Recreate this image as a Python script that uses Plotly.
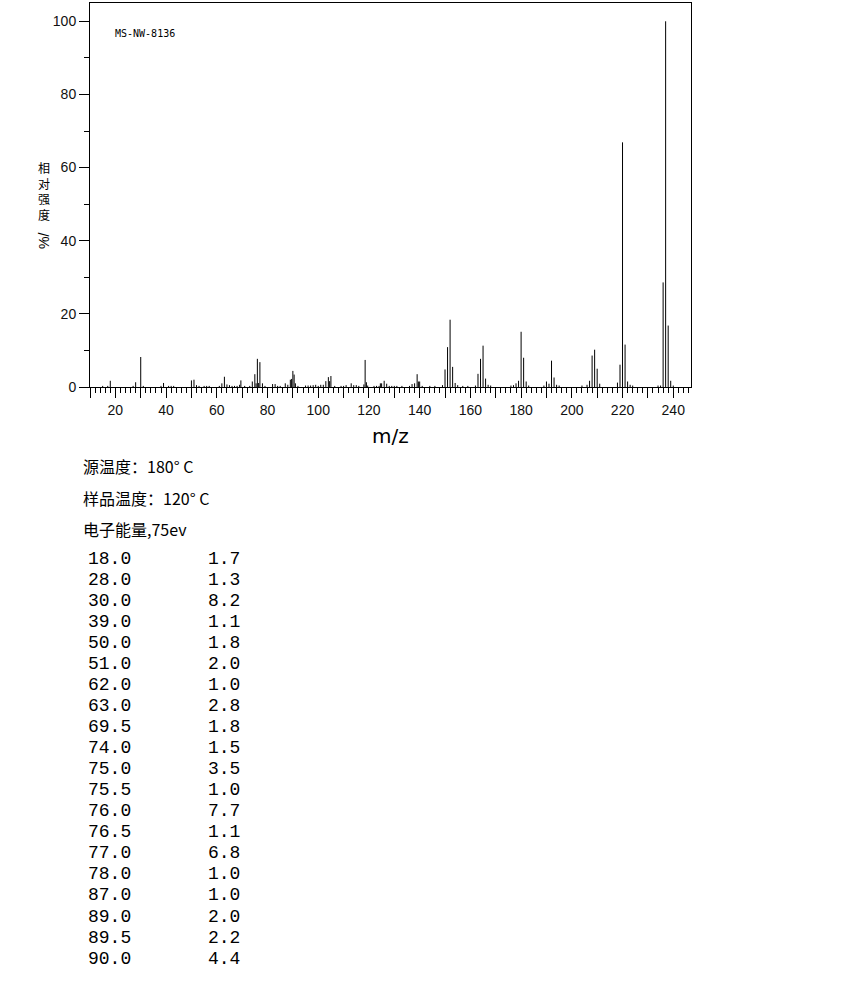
import plotly.graph_objects as go

# ---- spectrum data (m/z, relative intensity %) ----
mz = [15, 17, 18, 27, 28, 30, 31, 38, 39, 41, 42, 43, 50, 51, 52, 53, 55, 56, 57,
      61, 62, 63, 64, 65, 66, 67, 68, 69, 69.5, 71, 73, 74, 75, 75.5, 76, 76.5, 77, 78,
      79, 82, 83, 84, 85, 87, 88, 89, 89.5, 90, 90.5, 91, 92, 95, 96, 97, 98, 99, 100,
      101, 102, 103, 104, 104.5, 105, 106.5, 109, 110, 111, 113, 114, 115, 116,
      118, 118.5, 119, 119.5, 122, 123, 124, 124.5, 125, 126, 127, 128, 129, 130, 131,
      133, 136, 137, 138, 139, 139.5, 140, 141, 144, 146, 149, 150, 151, 152, 153,
      154, 155, 157, 159, 162, 163, 164, 165, 166, 167, 168, 176, 177, 178, 179, 180,
      181, 182, 183, 189, 190, 191, 192, 193, 194, 195, 204, 206, 207, 208, 209, 210,
      211, 218, 219, 220, 221, 222, 223, 224, 234, 235, 236, 237, 238, 239, 240]
intensity = [0.3, 0.3, 1.7, 0.3, 1.3, 8.2, 0.3, 0.3, 1.1, 0.3, 0.3, 0.3, 1.8, 2.0, 0.5, 0.3, 0.3, 0.3, 0.3,
             0.3, 1.0, 2.8, 0.7, 0.5, 0.3, 0.3, 0.3, 0.6, 1.8, 0.3, 0.3, 1.5, 3.5, 1.0, 7.7, 1.1, 6.8, 1.0,
             0.3, 0.8, 0.8, 0.3, 0.3, 1.0, 0.6, 2.0, 2.2, 4.4, 3.4, 1.0, 0.3, 0.4, 0.4, 0.4, 0.5, 0.6, 0.3,
             0.6, 0.6, 1.6, 2.7, 1.6, 3.0, 0.3, 0.3, 0.3, 0.5, 1.0, 0.5, 0.5, 0.3,
             0.7, 7.4, 1.3, 0.4, 0.3, 0.3, 0.3, 1.0, 1.0, 1.7, 0.9, 0.3, 0.3, 0.3, 0.3,
             0.3, 0.3, 0.8, 1.0, 3.5, 1.5, 1.5, 0.3, 0.3, 0.3, 0.5, 4.8, 10.9, 18.4, 5.5,
             1.1, 0.5, 0.3, 0.3, 0.4, 3.6, 7.7, 11.3, 2.3, 0.6, 0.4, 0.4, 0.5, 1.0, 1.7, 15.1,
             8.0, 1.5, 0.4, 0.4, 1.5, 0.9, 7.2, 2.6, 0.6, 0.4, 0.4, 0.6, 1.7, 8.6, 10.2, 5.0,
             0.9, 1.2, 6.1, 66.9, 11.6, 1.5, 0.6, 0.4, 0.4, 0.4, 28.6, 100.0, 16.8, 1.7, 0.4]

x_range = [10, 247]
y_range = [0, 105]
x_labels = [20, 40, 60, 80, 100, 120, 140, 160, 180, 200, 220, 240]

sample_id = "MS-NW-8136"
y_title_chars = ["相", "对", "强", "度"]
info_lines = ["源温度：180° C", "样品温度：120° C", "电子能量,75ev"]

table_mz = ["18.0", "28.0", "30.0", "39.0", "50.0", "51.0", "62.0", "63.0", "69.5", "74.0",
            "75.0", "75.5", "76.0", "76.5", "77.0", "78.0", "87.0", "89.0", "89.5", "90.0"]
table_int = ["1.7", "1.3", "8.2", "1.1", "1.8", "2.0", "1.0", "2.8", "1.8", "1.5",
             "3.5", "1.0", "7.7", "1.1", "6.8", "1.0", "1.0", "2.0", "2.2", "4.4"]

# ---- layout geometry (pixels) ----
W, H = 850, 992
L, R, T, B = 90, 159, 3, 605
PW = W - L - R
PH = H - T - B


def px(xp):
    return (xp - L) / PW


def py(yp):
    return (H - B - yp) / PH


# build stick lines
xs, ys = [], []
for m, v in zip(mz, intensity):
    xs += [m, m, None]
    ys += [0, v, None]

fig = go.Figure()
fig.add_trace(go.Scatter(x=xs, y=ys, mode="lines",
                         line=dict(color="black", width=1),
                         hoverinfo="skip", showlegend=False))

alias = {str(v): " " for v in range(10, 250, 10) if v not in x_labels}

tickfont = dict(family="Liberation Sans", size=14, color="#111")

fig.update_layout(
    width=W, height=H,
    margin=dict(l=L, r=R, t=T, b=B, pad=0),
    paper_bgcolor="white", plot_bgcolor="white",
    showlegend=False,
    xaxis=dict(range=x_range, showgrid=False, zeroline=False,
               showline=True, linecolor="black", linewidth=1, mirror=True,
               ticks="outside", ticklen=10, tickcolor="black", tickwidth=1,
               tickmode="linear", tick0=0, dtick=10, labelalias=alias,
               tickfont=tickfont,
               minor=dict(ticks="outside", ticklen=5, tickcolor="black",
                          tickwidth=1, dtick=2, tick0=0, showgrid=False)),
    yaxis=dict(range=y_range, showgrid=False, zeroline=False,
               showline=True, linecolor="black", linewidth=1, mirror=True,
               ticks="outside", ticklen=10, tickcolor="black", tickwidth=1,
               tickmode="linear", tick0=0, dtick=20,
               tickfont=tickfont,
               minor=dict(ticks="outside", ticklen=5, tickcolor="black",
                          tickwidth=1, dtick=10, tick0=0, showgrid=False)),
)

ann = []
# sample id inside plot
ann.append(dict(x=px(113), y=py(34), xref="paper", yref="paper", text=sample_id,
                showarrow=False, xanchor="left", yanchor="middle",
                font=dict(family="DejaVu Sans Mono", size=10, color="black")))
# x-axis title
ann.append(dict(x=px(390), y=py(436), xref="paper", yref="paper", text="m/z",
                showarrow=False, xanchor="center", yanchor="middle",
                font=dict(family="DejaVu Sans", size=20, color="black")))
# y-axis title (vertical stacked)
ann.append(dict(x=px(44), y=py(191), xref="paper", yref="paper",
                text="<br>".join(y_title_chars),
                showarrow=False, xanchor="center", yanchor="middle",
                font=dict(family="Noto Sans CJK SC", size=12, color="black")))
ann.append(dict(x=px(44), y=py(241), xref="paper", yref="paper", text="%/",
                showarrow=False, xanchor="center", yanchor="middle", textangle=-90,
                font=dict(family="Liberation Sans", size=14, color="black")))
# info lines
for line, yc in zip(info_lines, [466, 498, 529]):
    ann.append(dict(x=px(81), y=py(yc), xref="paper", yref="paper", text=line,
                    showarrow=False, xanchor="left", yanchor="middle",
                    font=dict(family="Noto Sans CJK SC", size=16, color="black")))
# peak table
for i, (a, b) in enumerate(zip(table_mz, table_int)):
    yc = 559 + 21.03 * i
    for xt, t in ((86, a), (206, b)):
        ann.append(dict(x=px(xt), y=py(yc), xref="paper", yref="paper", text=t,
                        showarrow=False, xanchor="left", yanchor="middle",
                        font=dict(family="Liberation Mono", size=18, color="black")))

fig.update_layout(annotations=ann)
fig.write_html("out.html",
               config={"displayModeBar": False},
               post_script="document.body.style.margin='0';document.body.style.padding='0';")
